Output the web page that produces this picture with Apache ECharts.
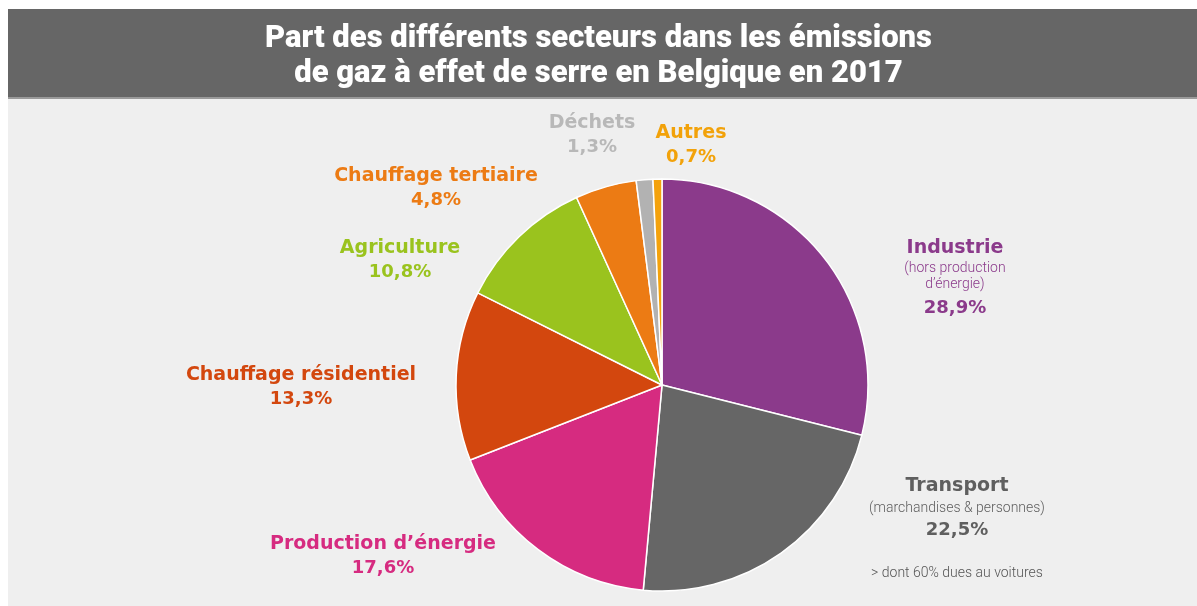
<!DOCTYPE html>
<html>
<head>
<meta charset="utf-8">
<script src="https://cdn.jsdelivr.net/npm/echarts@6/dist/echarts.min.js"></script>
<style>
html,body{margin:0;padding:0;background:#ffffff;}
#chart{width:1197px;height:606px;}
</style>
</head>
<body>
<div id="chart"></div>
<script>
// ---- data ----
const titleLines = ['Part des différents secteurs dans les émissions', 'de gaz à effet de serre en Belgique en 2017'];
const categories = ['Industrie', 'Transport', 'Production d\u2019énergie', 'Chauffage résidentiel', 'Agriculture', 'Chauffage tertiaire', 'Déchets', 'Autres'];
const values = [28.9, 22.5, 17.6, 13.3, 10.8, 4.8, 1.3, 0.7];
const valueLabels = ['28,9%', '22,5%', '17,6%', '13,3%', '10,8%', '4,8%', '1,3%', '0,7%'];
const subLabels = { 'Industrie': ['(hors production', 'd\u2019énergie)'], 'Transport': ['(marchandises & personnes)'] };
const notes = { 'Transport': '> dont 60% dues au voitures' };

// ---- styles ----
const sliceColors = ['#8b3a8b', '#666666', '#d62b80', '#d3470e', '#9ac31e', '#ec7b14', '#b2b2b2', '#f4a20c'];
const labelColors = ['#8b3a8b', '#5f5f5f', '#d62b80', '#d3470e', '#9ac31e', '#ec7b14', '#b8b8b8', '#f2a20a'];
const labelPos = [[955, 236], [957, 474], [383, 532], [301, 363], [400, 236], [436, 164], [592, 111], [691, 121]];
const LF = '"DejaVu Sans", sans-serif';

const data = categories.map((c, i) => {
  const col = labelColors[i];
  let parts = ['{n|' + c + '}'];
  (subLabels[c] || []).forEach(s => parts.push('{s|' + s + '}'));
  parts.push('{v|' + valueLabels[i] + '}');
  if (notes[c]) { parts.push('{g| }'); parts.push('{note|' + notes[c] + '}'); }
  return {
    name: c,
    value: values[i],
    itemStyle: { color: sliceColors[i] },
    label: {
      formatter: parts.join('\n'),
      rich: {
        n: { fontFamily: LF, fontWeight: 'bold', fontSize: 19, color: col, lineHeight: 24, align: 'center' },
        s: { fontFamily: 'Roboto, sans-serif', fontWeight: 300, fontSize: 14, color: col, lineHeight: c === 'Industrie' ? 16 : 20, align: 'center' },
        v: { fontFamily: LF, fontWeight: 'bold', fontSize: 18, color: col, lineHeight: c === 'Industrie' ? 32 : 25, align: 'center' },
        g: { fontSize: 10, lineHeight: 20 },
        note: { fontFamily: 'Roboto, sans-serif', fontWeight: 300, fontSize: 14, color: '#555555', lineHeight: 20, align: 'center' }
      }
    }
  };
});

const chart = echarts.init(document.getElementById('chart'), null, { renderer: 'canvas' });
chart.setOption({
  animation: false,
  backgroundColor: '#ffffff',
  graphic: [
    { type: 'rect', z: -10, shape: { x: 8, y: 99, width: 1189, height: 507 }, style: { fill: '#efefef' } },
    { type: 'rect', z: -10, shape: { x: 8, y: 9, width: 1189, height: 89 }, style: { fill: '#666666' } },
    { type: 'rect', z: -10, shape: { x: 8, y: 97, width: 1189, height: 2 }, style: { fill: '#9a9a9a' } }
  ],
  title: {
    text: titleLines.join('\n'),
    left: 'center',
    top: 17,
    textStyle: { color: '#ffffff', fontFamily: 'Roboto, sans-serif', fontWeight: 900, fontSize: 31, lineHeight: 35 }
  },
  series: [{
    type: 'pie',
    center: [662, 385],
    radius: [0, 206],
    startAngle: 90,
    clockwise: true,
    avoidLabelOverlap: false,
    itemStyle: { borderColor: '#ffffff', borderWidth: 1.5 },
    label: { show: true, position: 'outside' },
    labelLine: { show: false },
    emphasis: { disabled: true },
    labelLayout: function (p) {
      const pos = labelPos[p.dataIndex];
      return { x: pos[0], y: pos[1], align: 'center', verticalAlign: 'top' };
    },
    data: data
  }]
});
</script>
</body>
</html>
